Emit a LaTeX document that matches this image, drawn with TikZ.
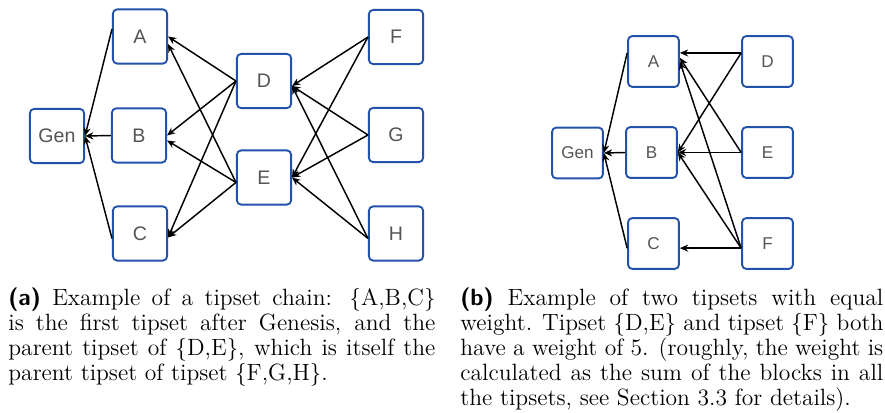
\documentclass[tikz,border=0pt]{standalone}
\usepackage{fontspec}
\newfontfamily\boxfont{Liberation Sans}
\usetikzlibrary{arrows,arrows.meta,shapes,positioning,calc}
\hyphenpenalty=10000

\definecolor{blockblue}{RGB}{34,82,170}
\definecolor{blockgray}{RGB}{85,85,85}

\tikzset{
  block/.style={draw=blockblue, line width=0.9pt, rounded corners=2pt, fill=white,
    minimum size=26pt, inner sep=0pt, text=blockgray, font=\boxfont\fontsize{9.4}{10}\selectfont},
  smallblock/.style={block, minimum size=24.4pt, font=\boxfont\fontsize{8.2}{9}\selectfont},
  parent/.style={-{Stealth[length=4pt,width=3.4pt]}, line width=0.7pt},
  caption/.style={anchor=north west, text width=205pt, align=justify, inner sep=0pt,
    font=\fontsize{11.3}{12}\selectfont}
}

\begin{document}
\begin{tikzpicture}[x=0.48pt, y=-0.48pt]
	\useasboundingbox (0,0) rectangle (885,412);
	
	% (a) tipset chain
	\node[block] (genA) at (57,136) {Gen};
	\node[block] (a1) at (140,36.5) {A};
	\node[block] (b1) at (139,135.5) {B};
	\node[block] (c1) at (140,233.5) {C};
	\node[block] (d1) at (264,81) {D};
	\node[block] (e1) at (264,177.5) {E};
	\node[block] (f1) at (396,37) {F};
	\node[block] (g1) at (396,135) {G};
	\node[block] (h1) at (396,233.5) {H};
	
	\draw[parent] (a1.165) -- (genA.east);
	\draw[parent] (b1.west) -- (genA.east);
	\draw[parent] (c1.190) -- (genA.east);
	
	\draw[parent] (d1.west) -- (a1.east);
	\draw[parent] (d1.west) -- (b1.east);
	\draw[parent] (d1.west) -- (c1.-8);
	\draw[parent] (e1.190) -- (a1.-15);
	\draw[parent] (e1.190) -- (b1.-10);
	\draw[parent] (e1.190) -- (c1.-8);
	
	\draw[parent] (f1.west) -- (d1.-10);
	\draw[parent] (f1.west) -- (e1.east);
	\draw[parent] (g1.west) -- (d1.-10);
	\draw[parent] (g1.west) -- (e1.east);
	\draw[parent] (h1.190) -- (d1.-10);
	\draw[parent] (h1.190) -- (e1.east);
	
	% (b) equal weight
	\node[smallblock] (genB) at (577.5,153) {Gen};
	\node[smallblock] (a2) at (653.5,61.5) {A};
	\node[smallblock] (b2) at (651.5,152.5) {B};
	\node[smallblock] (c2) at (653.5,243.5) {C};
	\node[smallblock] (d2) at (767.5,61.5) {D};
	\node[smallblock] (e2) at (767.5,152.5) {E};
	\node[smallblock] (f2) at (767.5,243.5) {F};
	
	\draw[parent] (a2.162) -- (genB.east);
	\draw[parent] (b2.west) -- (genB.east);
	\draw[parent] (c2.190) -- (genB.east);
	
	\draw[parent] (d2.162) -- (a2.18);
	\draw[parent] (d2.162) -- (b2.east);
	\draw[parent] (e2.west) -- (a2.8);
	\draw[parent] (e2.west) -- (b2.east);
	\draw[parent] (f2.190) -- (a2.east);
	\draw[parent] (f2.190) -- (b2.east);
	\draw[parent] (f2.190) -- (c2.-10);
	
	% captions
	\node[caption] (capA) at (8,287) {{\sffamily\bfseries (a)} Example of a tipset chain: $\{$A,B,C$\}$ is the first tipset after Genesis, and the parent tipset of $\{$D,E$\}$, which is itself the parent tipset of tipset $\{$F,G,H$\}$.};
	\node[caption, text width=203pt] (capB) at (460,287) {{\sffamily\bfseries (b)} Example of two tipsets with equal weight. Tipset $\{$D,E$\}$ and tipset $\{$F$\}$ both have a weight of 5. (roughly, the weight is calculated as the sum of the blocks in all the tipsets, see Section 3.3 for details).};
\end{tikzpicture}
\end{document}
